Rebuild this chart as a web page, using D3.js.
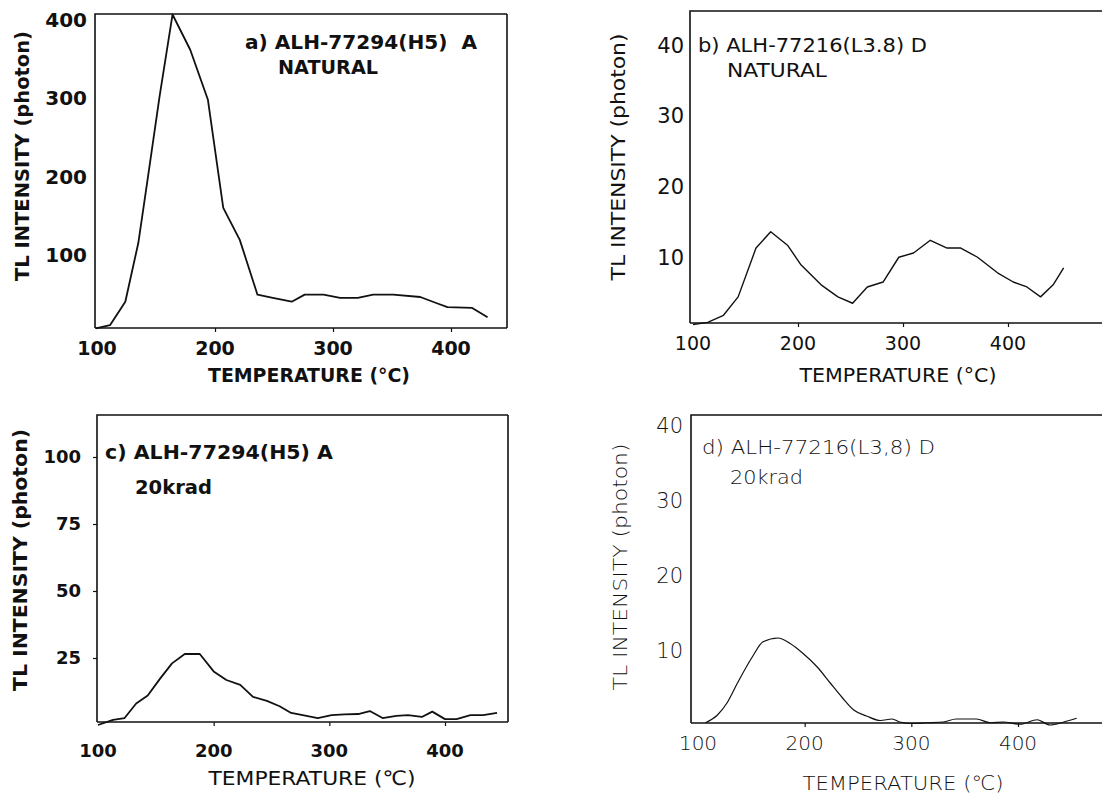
<!DOCTYPE html>
<html>
  <head>
    <meta charset="UTF-8" />
    <title>TL glow curves ALH-77294 / ALH-77216</title>
    <style>
      body { margin: 0; background: #fff; }
      svg text { font-family: 'DejaVu Sans', sans-serif; fill: #111; white-space: pre; }
    </style>
  </head>
  <body>
    <svg width="1102" height="795"></svg>
    <script src="https://cdnjs.cloudflare.com/ajax/libs/d3/7.8.5/d3.min.js"></script>
    <script>
      // temperatures (°C) and TL intensity (photon)
      const tempA = [99, 111, 124, 135, 142, 153, 164, 179, 194, 207, 221, 236, 249, 265, 276, 292, 306, 321, 334, 351, 374, 388, 397, 418, 431];
      const tlA = [6, 10, 40, 115, 187, 302, 407, 362, 298, 160, 119, 49, 45, 40, 49, 49, 45, 45, 49, 49, 46, 38, 33, 32, 20];

      const tempB = [100, 114, 129, 143, 160, 174, 190, 203, 222, 238, 252, 266, 281, 296, 310, 326, 342, 355, 371, 390, 405, 418, 431, 443, 453];
      const tlB = [0.5, 0.8, 1.8, 4.4, 11.3, 13.6, 11.7, 8.9, 6.1, 4.4, 3.5, 5.8, 6.5, 10, 10.6, 12.4, 11.3, 11.3, 10, 7.8, 6.5, 5.8, 4.4, 6.1, 8.5];

      const tempC = [100, 113, 123, 133, 143, 154, 164, 175, 188, 200, 211, 223, 234, 246, 257, 267, 277, 290, 302, 313, 325, 335, 346, 358, 368, 380, 389, 400, 410, 422, 433, 445];
      const tlC = [0, 1.9, 2.6, 8, 11, 17.5, 23, 26.5, 26.5, 20, 16.8, 15, 10.5, 9, 7, 4.5, 3.7, 2.6, 3.7, 4, 4.1, 5.2, 2.6, 3.4, 3.7, 3, 5, 2.2, 2.2, 3.7, 3.7, 4.5];

      const tempD = [107, 118, 127, 137, 151, 161, 175, 186, 198, 212, 224, 235, 246, 258, 271, 282, 289, 300, 314, 330, 342, 361, 374, 386, 402, 418, 430, 443, 455];
      const tlD = [0.3, 1.3, 2.9, 5.6, 9.1, 11.1, 11.6, 10.9, 9.6, 7.7, 5.6, 3.7, 2, 1.2, 0.6, 0.8, 0.4, 0.2, 0.3, 0.4, 0.8, 0.8, 0.3, 0.4, 0.1, 0.7, 0, 0.4, 0.9];

      const xTicks = [100, 200, 300, 400];
      const yTicksA = [100, 200, 300, 400];
      const yTicksB = [10, 20, 30, 40];
      const yTicksC = [25, 50, 75, 100];
      const yTicksD = [10, 20, 30, 40];

      const titlesA = ['a) ALH-77294(H5)  A', 'NATURAL'];
      const titlesB = ['b) ALH-77216(L3.8) D', 'NATURAL'];
      const titlesC = ['c) ALH-77294(H5) A', '20krad'];
      const titlesD = ['d) ALH-77216(L3,8) D', '20krad'];

      const xAxisLabels = ['TEMPERATURE (°C)', 'TEMPERATURE (°C)', 'TEMPERATURE (℃)', 'TEMPERATURE (℃)'];
      const yAxisLabel = 'TL INTENSITY (photon)';

      const svg = d3.select('svg');

      // pixel layout of each panel
      const panels = [
        {
          temps: tempA, vals: tlA, yTicks: yTicksA, titles: titlesA, xLabel: xAxisLabels[0],
          box: { l: 95, t: 14, r: 507, b: 328 }, xr: [97, 451], yMax: 400, yr: [333, 20],
          weight: 'bold', xLabWeight: 'bold', yTickSize: 20, xTickSize: 19, lineW: 1.8, rightSide: true,
          yTickX: 87, xTickY: 355, xLab: [309, 382, 202], yLab: [22, 156, 250],
          t1: [245, 49, 232], t2: [278, 74, 100], titleSize: 19, labelSize: 19, leftTicks: false,
        },
        {
          temps: tempB, vals: tlB, yTicks: yTicksB, titles: titlesB, xLabel: xAxisLabels[1],
          box: { l: 690, t: 11, r: 1110, b: 323 }, xr: [693, 1008], yMax: 40, yr: [328, 45],
          weight: 'normal', xLabWeight: 'normal', yTickSize: 21, xTickSize: 19, lineW: 1.4, rightSide: false,
          yTickX: 684, xTickY: 350, xLab: [898, 382, 197], yLab: [618, 157, 247],
          t1: [698, 52, 229], t2: [727, 77, 100], titleSize: 20, labelSize: 20, leftTicks: false,
        },
        {
          temps: tempC, vals: tlC, yTicks: yTicksC, titles: titlesC, xLabel: xAxisLabels[2],
          box: { l: 97, t: 415, r: 508, b: 722 }, xr: [98, 445], yMax: 100, yr: [725, 457],
          weight: 'bold', xLabWeight: 'normal', yTickSize: 18, xTickSize: 18, lineW: 1.8, rightSide: true,
          yTickX: 81, xTickY: 757, xLab: [312, 785, 207], yLab: [20, 560, 262],
          t1: [105, 459, 228], t2: [135, 494, 77], titleSize: 19, labelSize: 20, leftTicks: true,
        },
        {
          temps: tempD, vals: tlD, yTicks: yTicksD, titles: titlesD, xLabel: xAxisLabels[3],
          box: { l: 691, t: 415, r: 1110, b: 723 }, xr: [698, 1018], yMax: 40, yr: [725, 425],
          weight: 200, xLabWeight: 200, yTickSize: 21, xTickSize: 20, lineW: 1.2, rightSide: false,
          yTickX: 683, xTickY: 750, xLab: [903, 790, 201], yLab: [620, 567, 247],
          t1: [702, 454, 233], t2: [730, 484, 73], titleSize: 20, labelSize: 20, leftTicks: false,
        },
      ];

      panels.forEach((p, i) => {
        const x = d3.scaleLinear().domain([100, 400]).range(p.xr);
        const y = d3.scaleLinear().domain([0, p.yMax]).range(p.yr);
        const g = svg.append('g').attr('class', 'panel');
        const b = p.box;

        // frame
        const frame = [[b.l, b.b], [b.l, b.t], [b.r, b.t]];
        g.append('path')
          .attr('d', d3.line()(frame))
          .attr('fill', 'none')
          .attr('stroke', '#111')
          .attr('stroke-width', 1.6);
        g.append('line')
          .attr('x1', b.l).attr('x2', b.r)
          .attr('y1', b.b).attr('y2', b.b)
          .attr('stroke', '#111').attr('stroke-width', 1.6);
        if (p.rightSide) {
          g.append('line')
            .attr('x1', b.r).attr('x2', b.r)
            .attr('y1', b.t).attr('y2', b.b)
            .attr('stroke', '#111').attr('stroke-width', 1.6);
        }

        // small tick marks
        const xAxisG = g.append('g')
          .attr('transform', `translate(0,${b.b})`)
          .call(d3.axisBottom(x).tickValues(xTicks.slice(1)).tickSize(4).tickFormat(''));
        xAxisG.select('.domain').remove();
        xAxisG.selectAll('line').attr('stroke', '#111').attr('stroke-width', 1.2);

        if (p.leftTicks) {
          const yAxisG = g.append('g')
            .attr('transform', `translate(${b.l},0)`)
            .call(d3.axisLeft(y).tickValues(p.yTicks).tickSize(4).tickFormat(''));
          yAxisG.select('.domain').remove();
          yAxisG.selectAll('line').attr('stroke', '#111').attr('stroke-width', 1.2);
        }

        // tick labels
        g.selectAll('.ytl')
          .data(p.yTicks)
          .join('text')
          .attr('x', p.yTickX)
          .attr('y', (d) => y(d))
          .attr('dy', '0.36em')
          .attr('text-anchor', 'end')
          .attr('font-size', p.yTickSize)
          .attr('font-weight', p.weight)
          .text((d) => d);

        g.selectAll('.xtl')
          .data(xTicks)
          .join('text')
          .attr('x', (d) => x(d))
          .attr('y', p.xTickY)
          .attr('text-anchor', 'middle')
          .attr('font-size', p.xTickSize)
          .attr('font-weight', p.weight)
          .text((d) => d);

        // axis titles
        g.append('text')
          .attr('x', p.xLab[0])
          .attr('y', p.xLab[1])
          .attr('text-anchor', 'middle')
          .attr('font-size', p.labelSize)
          .attr('font-weight', p.xLabWeight)
          .attr('textLength', p.xLab[2])
          .attr('lengthAdjust', 'spacingAndGlyphs')
          .text(p.xLabel);

        g.append('text')
          .attr('transform', `translate(${p.yLab[0]},${p.yLab[1]}) rotate(-90)`)
          .attr('dy', '0.36em')
          .attr('text-anchor', 'middle')
          .attr('font-size', p.labelSize)
          .attr('font-weight', p.weight)
          .attr('textLength', p.yLab[2])
          .attr('lengthAdjust', 'spacingAndGlyphs')
          .text(yAxisLabel);

        // panel titles
        [p.t1, p.t2].forEach((t, k) => {
          g.append('text')
            .attr('x', t[0])
            .attr('y', t[1])
            .attr('font-size', p.titleSize)
            .attr('font-weight', p.weight)
            .attr('textLength', t[2])
            .attr('lengthAdjust', 'spacingAndGlyphs')
            .text(p.titles[k]);
        });

        // glow curve
        const pts = p.temps.map((t, k) => [t, p.vals[k]]);
        g.append('path')
          .datum(pts)
          .attr('fill', 'none')
          .attr('stroke', '#111')
          .attr('stroke-width', p.lineW)
          .attr('stroke-linejoin', 'round')
          .attr('d', d3.line()
            .x((d) => x(d[0]))
            .y((d) => y(d[1]))
            .curve(i === 3 ? d3.curveMonotoneX : d3.curveLinear));
      });
    </script>
  </body>
</html>
